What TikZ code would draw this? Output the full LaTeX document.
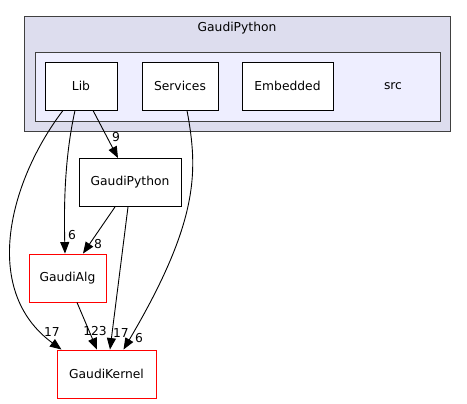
\documentclass[tikz,border=0pt]{standalone}
\usepackage{fontspec}
\setmainfont{DejaVu Sans}
\usetikzlibrary{arrows.meta}
\definecolor{outerfill}{HTML}{DDDDEE}
\definecolor{innerfill}{HTML}{EEEEFF}
\definecolor{clborder}{HTML}{404040}
\begin{document}
\begin{tikzpicture}[x=1pt,y=-1pt,
  every node/.style={font=\fontsize{12.3}{14}\selectfont},
  dirbox/.style={draw=black,fill=white,line width=0.9pt},
  redbox/.style={draw=red,fill=white,line width=0.9pt},
  edge/.style={draw=black,line width=0.9pt,-{Triangle[length=11.5pt,width=9pt]}},
  elabel/.style={inner sep=0pt,fill=none}]
\useasboundingbox (0,0) rectangle (467,404);
% clusters
\draw[clborder,fill=outerfill,line width=0.9pt] (24,16) rectangle (450,131);
\node (cltitle) at (237,28) {GaudiPython};
\draw[clborder,fill=innerfill,line width=0.9pt] (35,52) rectangle (440,121);
\node (srctitle) at (393,86) {src};
% nodes
\node[dirbox,minimum width=72pt,minimum height=48pt] (lib) at (81,86) {Lib};
\node[dirbox,minimum width=76pt,minimum height=48pt] (serv) at (180,86) {Services};
\node[dirbox,minimum width=91pt,minimum height=48pt] (emb) at (287.5,86) {Embedded};
\node[dirbox,minimum width=102pt,minimum height=48pt] (gp) at (130,182.5) {GaudiPython};
\node[redbox,minimum width=77pt,minimum height=48pt] (alg) at (67.5,278) {GaudiAlg};
\node[redbox,minimum width=99pt,minimum height=48pt] (kern) at (106.5,374) {GaudiKernel};
% edges
\draw[edge] ([xshift=12pt]lib.south) -- ([xshift=-12pt]gp.north);
\node[elabel] (l9) at (116,137) {9};
\draw[edge] ([xshift=-6pt]lib.south) .. controls (64,160) and (64,210) .. ([xshift=-2.5pt]alg.north);
\node[elabel] (l6a) at (72,235) {6};
\draw[edge] ([xshift=-18pt]lib.south) .. controls (10,180) and (-20,290) .. ([xshift=-45pt]kern.north);
\node[elabel] (l17a) at (52,332) {17};
\draw[edge] ([xshift=7pt]serv.south) .. controls (198,170) and (200,220) .. ([xshift=17pt]kern.north);
\node[elabel] (l6b) at (139,338) {6};
\draw[edge] ([xshift=-15pt]gp.south) -- ([xshift=15.5pt]alg.north);
\node[elabel] (l8) at (98,244) {8};
\draw[edge] ([xshift=-2pt]gp.south) -- ([xshift=3.5pt]kern.north);
\node[elabel] (l17b) at (121,333) {17};
\draw[edge] ([xshift=9.5pt]alg.south) -- ([xshift=-9.5pt]kern.north);
\node[elabel] (l123) at (95,331) {123};
\end{tikzpicture}
\end{document}
